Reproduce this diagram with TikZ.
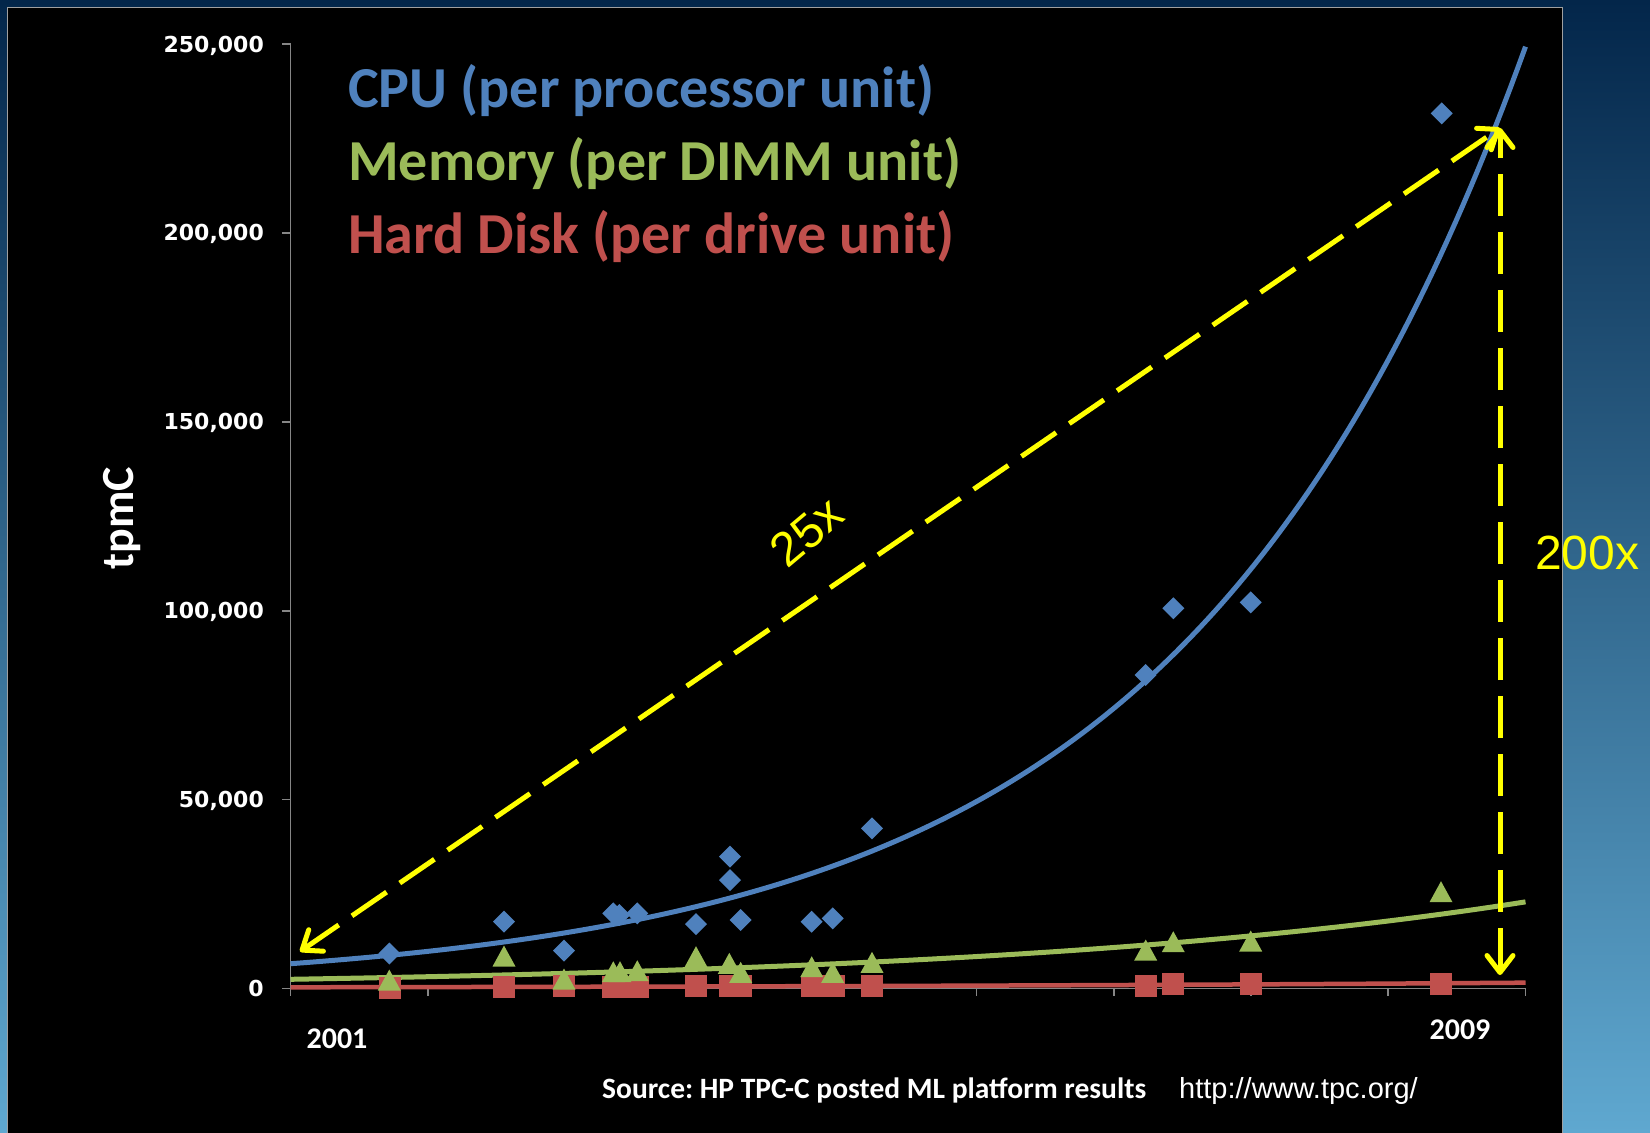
\documentclass[tikz,border=0pt]{standalone}
\usepackage{fontspec}
\setmainfont{Carlito}
\newfontfamily\djv{DejaVu Sans}
\newfontfamily\lib{Liberation Sans}
\usetikzlibrary{arrows.meta}
\frenchspacing
\definecolor{cpuc}{HTML}{4F81BD}
\definecolor{memc}{HTML}{9BBB59}
\definecolor{hddc}{HTML}{C0504D}
\definecolor{axisc}{HTML}{868686}
\definecolor{framec}{HTML}{A0A0A0}
\definecolor{yarrowc}{HTML}{FFFF00}
\definecolor{bgtop}{HTML}{03264A}
\definecolor{bgmid}{HTML}{0A5A92}
\definecolor{bgbot}{HTML}{5FA8D0}
\begin{document}
\begin{tikzpicture}[x=1pt,y=-1pt,
  axisline/.style={draw=axisc,line width=1.6pt},
  trend/.style={line width=5pt,line join=round},
  ticklab/.style={anchor=base east,inner sep=0pt,text=white,font=\djv\bfseries\fontsize{22}{26}\selectfont},
  yearlab/.style={anchor=center,inner sep=0pt,text=white,font=\bfseries\fontsize{30}{36}\selectfont},
  legtext/.style={anchor=base west,inner sep=0pt,font=\bfseries\fontsize{58}{68}\selectfont},
  yarrow/.style={draw=yarrowc,line width=5pt,dash pattern=on 42pt off 16pt,
     {Straight Barb[length=17pt,width=26pt,round]}-{Straight Barb[length=17pt,width=26pt,round]}},
  factor/.style={text=yarrowc,inner sep=0pt,font=\lib\fontsize{48}{56}\selectfont},
  dia/.pic={\fill[cpuc] (0,-11)--(11,0)--(0,11)--(-11,0)--cycle;},
  tri/.pic={\fill[memc] (0,-10.5)--(11.5,10.5)--(-11.5,10.5)--cycle;},
  sqr/.pic={\fill[hddc] (-11,-11) rectangle (11,11);}
]
\useasboundingbox (0,0) rectangle (1650,1133);
% background
\shade[top color=bgtop,middle color=bgmid,bottom color=bgbot] (0,0) rectangle (1650,1133);
\filldraw[fill=black,draw=framec,line width=1.5pt] (7.5,7.5) rectangle (1562.5,1140);

% axes
\foreach \k/\t in {0/0,1/{50,000},2/{100,000},3/{150,000},4/{200,000},5/{250,000}}{
  \draw[axisline] (282,{988.5-\k*188.9}) -- (290.5,{988.5-\k*188.9});
  \node[ticklab] (ytl\k) at (264,{996.5-\k*188.9}) {\t};
}
\foreach \k in {0,...,9}{
  \draw[axisline] ({290.5+\k*137.22},988.5) -- ({290.5+\k*137.22},996);
}
\draw[axisline] (290.5,44) -- (290.5,988.5) -- (1525.5,988.5);

\node[yearlab] (y2001) at (337,1039) {2001};
\node[yearlab] (y2009) at (1460,1030) {2009};
\node[rotate=90,anchor=base,inner sep=0pt,text=white,font=\bfseries\fontsize{46}{54}\selectfont] (ylabel) at (133,518) {tpmC};

% trend lines
\draw[trend,hddc,line width=4.5pt] plot[domain=290.5:1525.5,samples=60] (\x,{988.5-1.2*exp(0.001276*(\x-290.5))});
\draw[trend,memc] plot[domain=290.5:1525.5,samples=80] (\x,{988.5-9.2*exp(0.001817*(\x-290.5))});
\draw[trend,cpuc] plot[domain=290.5:1525.5,samples=160] (\x,{988.5-24.8*exp(0.002946*(\x-290.5))});

% data markers
\foreach \px/\py in {390/988,504/986.7,564/986,613.3/987.3,619.3/987.3,638.3/987.3,696/986,730/986,741/986,811.7/986,834/986,872/986,1145.7/986,1173.3/984,1250.7/984,1441/984}{
  \pic at (\px,\py) {sqr};
}
\foreach \px/\py in {389.3/980,504/956,564/979,613.3/971.7,620/971.7,637.3/970.7,696/956.7,729.3/963.3,740.7/972.3,811.7/966.7,832.7/972.3,872/962.3,1145.7/950,1173.3/941.7,1250.7/941,1441/891.7}{
  \pic at (\px,\py) {tri};
}
\foreach \px/\py in {389.3/953.5,504/921.7,564/950.7,613.3/913.3,619.3/915,637.3/913.3,696/924,730/856.7,730/880,740.7/920,811.7/921.7,832.7/918.3,872/828.3,1145.7/675,1173.3/608.3,1250.7/602.3,1441.7/113.3}{
  \pic at (\px,\py) {dia};
}

% legend
\node[legtext,text=cpuc] (legcpu) at (348,107) {CPU (per processor unit)};
\node[legtext,text=memc] (legmem) at (348,180) {Memory (per DIMM unit)};
\node[legtext,text=hddc] (leghdd) at (348,253) {Hard Disk (per drive unit)};

% growth arrows
\coordinate (lowleft) at (300,951.5);
\coordinate (peak) at (1500,128);
\coordinate (floor) at (1500,975);
\draw[yarrow] (lowleft) -- (peak);
\draw[yarrow] (floor) -- (peak);
\node[factor,rotate=40] (f25) at (806.7,531.7) {25x};
\node[factor,anchor=base west] (f200) at (1535,569.5) {200x};

% source
\node[anchor=base west,inner sep=0pt,text=white,font=\bfseries\fontsize{29.5}{34}\selectfont] (src) at (602,1098) {Source: HP TPC-C posted ML platform results};
\node[anchor=base west,inner sep=0pt,text=white,font=\lib\fontsize{29}{34}\selectfont] (url) at (1179,1098) {http://www.tpc.org/};
\end{tikzpicture}
\end{document}
